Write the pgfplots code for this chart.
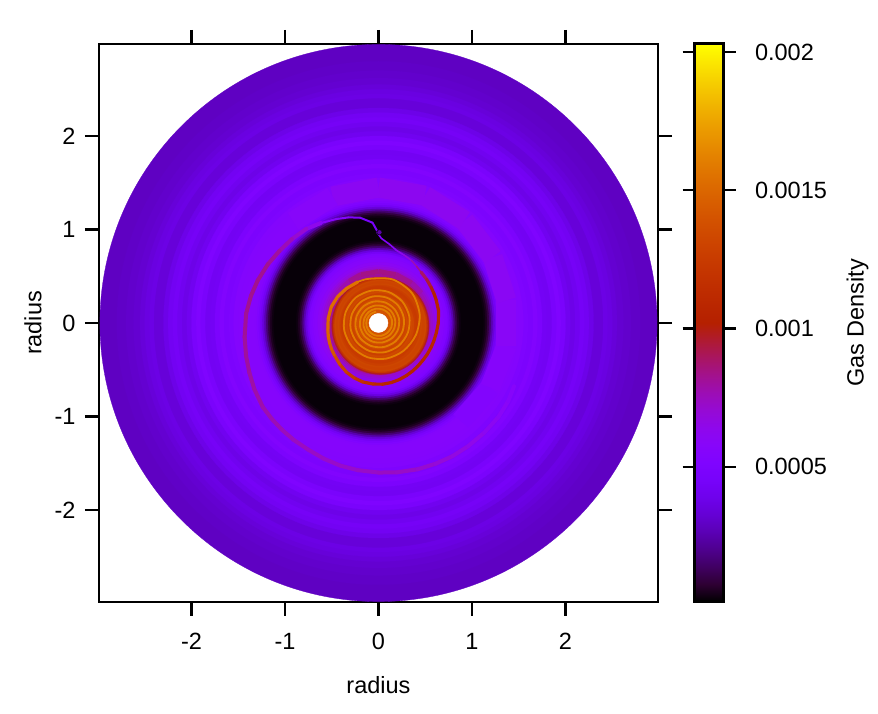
\documentclass[border=0pt]{standalone}
\usepackage{fontspec}
\setmainfont{Liberation Sans}
\usepackage{pgfplots}
\usepackage{pgfplotstable}
\pgfplotsset{compat=1.18}
\newcommand\fs{\fontsize{23.5}{28}\selectfont}
\definecolor{ringc}{rgb}{.885,.49,0}

% gnuplot pm3d palette 7,5,15
\pgfplotsset{colormap={gp}{
  rgb=(0,0,0) rgb=(.1768,0,.1951) rgb=(.25,.0002,.3827) rgb=(.3062,.0008,.5556)
  rgb=(.3536,.002,.7071) rgb=(.3953,.0038,.8315) rgb=(.4330,.0066,.9239) rgb=(.4677,.0105,.9808)
  rgb=(.5,.0156,1) rgb=(.5303,.0222,.9808) rgb=(.5590,.0305,.9239) rgb=(.5863,.0406,.8315)
  rgb=(.6124,.0527,.7071) rgb=(.6374,.0670,.5556) rgb=(.6614,.0837,.3827) rgb=(.6847,.1030,.1951)
  rgb=(.7071,.125,0) rgb=(.7289,.1499,0) rgb=(.75,.1780,0) rgb=(.7706,.2093,0)
  rgb=(.7906,.2441,0) rgb=(.8101,.2826,0) rgb=(.8292,.3250,0) rgb=(.8478,.3713,0)
  rgb=(.8660,.4219,0) rgb=(.8839,.4768,0) rgb=(.9014,.5364,0) rgb=(.9186,.6007,0)
  rgb=(.9354,.6699,0) rgb=(.9520,.7443,0) rgb=(.9682,.8240,0) rgb=(.9843,.9091,0)
  rgb=(1,1,0)}}

% radial density profile, outermost first
\pgfplotstableread{
r d
2.98 0.00029
2.90 0.00029
2.80 0.00030
2.70 0.00031
2.62 0.00032
2.55 0.00034
2.50 0.00036
2.45 0.00037
2.40 0.00034
2.35 0.00034
2.30 0.00038
2.25 0.00042
2.20 0.00044
2.15 0.00041
2.10 0.00038
2.05 0.00041
2.00 0.00047
1.95 0.00051
1.90 0.00047
1.85 0.00042
1.80 0.00043
1.75 0.00049
1.70 0.00053
1.65 0.00049
1.60 0.00050
1.55 0.00054
1.50 0.00055
1.45 0.00056
1.40 0.00056
1.35 0.00056
1.32 0.00055
1.30 0.00052
1.28 0.00048
1.26 0.00042
1.24 0.00034
1.22 0.00025
1.20 0.00016
1.18 0.00009
1.16 0.00005
1.14 0.00003
1.12 0.00002
0.90 0.00002
0.88 0.00003
0.86 0.00005
0.84 0.00009
0.82 0.00016
0.80 0.00026
0.78 0.00036
0.76 0.00044
0.74 0.00050
0.72 0.00053
0.70 0.00055
0.68 0.00057
0.65 0.00060
0.62 0.00064
0.60 0.00068
0.58 0.00072
0.56 0.00076
}\profile

% the orange core sits a little off centre
\pgfplotstableread{
cx cy r d
0.01 -0.02 0.535 0.00082
0.02 -0.03 0.52 0.00098
0.02 -0.03 0.505 0.00122
0.02 -0.03 0.49 0.00132
0.02 -0.03 0.47 0.00130
0.015 -0.025 0.45 0.00132
0.015 -0.025 0.43 0.00128
0.01 -0.02 0.41 0.00124
0.01 -0.02 0.39 0.00126
0.01 -0.02 0.37 0.00132
0.01 -0.015 0.35 0.00134
0.01 -0.015 0.33 0.00128
0.005 -0.01 0.31 0.00134
0.005 -0.01 0.29 0.00130
0.005 -0.01 0.27 0.00136
0.005 -0.01 0.25 0.00132
0 0 0.23 0.00138
0 0 0.21 0.00134
0 0 0.19 0.00138
0 0 0.17 0.00136
0 0 0.15 0.00140
}\core

% broad crescent outside the gap
\pgfplotstableread{
t r d
-50 1.37 0.00052
-30 1.38 0.00055
-10 1.39 0.00058
10 1.39 0.00060
30 1.41 0.00061
50 1.43 0.00062
70 1.45 0.00062
90 1.45 0.00062
110 1.44 0.00060
130 1.42 0.00056
}\crescent

% faint red band above the core
\pgfplotstableread{
t r d
140 0.535 0.00076
125 0.545 0.00080
110 0.55 0.00084
90 0.55 0.00084
70 0.55 0.00084
50 0.555 0.00080
35 0.56 0.00076
}\band

% wake next to the planet
\pgfplotstableread{
t r d
91 0.99 0.00045
93.4 1.075 0.00045
100 1.145 0.00048
106 1.175 0.00052
112 1.20 0.00056
120 1.235 0.00060
}\wakeout
\pgfplotstableread{
t r d
91 0.97 0.00045
88 0.905 0.00052
82 0.85 0.00056
76 0.80 0.00060
69 0.775 0.00066
62 0.756 0.00072
56 0.73 0.00080
50 0.71 0.00086
}\wakein

% outer arm
\pgfplotstableread{
t r d
120 1.235 0.00060
127.5 1.27 0.00068
136 1.29 0.00074
144 1.31 0.00079
152 1.34 0.00082
160.5 1.37 0.00083
168 1.395 0.00083
176 1.42 0.00082
186 1.44 0.00081
194 1.46 0.00080
201 1.48 0.00080
208 1.505 0.00079
216 1.53 0.00078
222 1.535 0.00077
228 1.54 0.00076
234 1.545 0.00075
241 1.55 0.00074
248 1.565 0.00073
255 1.58 0.00072
262 1.59 0.00072
270 1.60 0.00074
277 1.61 0.00074
285 1.62 0.00072
292 1.625 0.00070
299 1.63 0.00068
306 1.63 0.00066
314 1.63 0.00063
322 1.63 0.00060
329 1.62 0.00058
335 1.60 0.00056
}\outerarm

% inner arm
\pgfplotstableread{
t r d
50 0.71 0.00086
42 0.695 0.00092
34 0.68 0.00098
28 0.672 0.00102
22 0.665 0.00104
12 0.656 0.00106
0 0.64 0.00108
-10 0.627 0.00108
-18 0.622 0.00108
-25 0.62 0.00108
-33 0.62 0.00107
-40 0.62 0.00105
-48 0.625 0.00104
-55 0.63 0.00104
-62 0.637 0.00105
-70 0.645 0.00106
-78 0.652 0.00107
-86 0.656 0.00108
-95 0.656 0.00111
-105 0.653 0.00115
-114 0.642 0.00120
-123 0.628 0.00125
-133 0.606 0.00132
-144 0.584 0.00140
-151 0.575 0.00144
-158 0.565 0.00148
-165 0.556 0.00149
-172 0.547 0.00150
-185 0.54 0.00152
-199 0.534 0.00152
-213 0.52 0.00155
-227 0.504 0.00155
-243 0.492 0.00156
}\innerarm

% tight spiral round the hole
\pgfplotstableread{
t r
-243 0.492
-258 0.484
-288 0.49
-318 0.48
-348 0.45
-378 0.42
-408 0.40
-438 0.39
-468 0.385
-498 0.38
-528 0.375
-558 0.37
-588 0.365
-618 0.355
-648 0.349
-678 0.343
-708 0.337
-738 0.331
-768 0.326
-798 0.32
-828 0.315
-858 0.31
-888 0.305
-918 0.30
-948 0.295
-978 0.29
-1008 0.285
-1038 0.281
-1068 0.276
-1098 0.272
-1128 0.267
-1158 0.263
-1188 0.258
-1218 0.254
-1248 0.249
-1278 0.245
-1308 0.24
-1338 0.235
-1368 0.231
-1398 0.227
-1428 0.224
-1458 0.22
-1488 0.216
-1518 0.212
-1548 0.209
-1578 0.205
-1608 0.201
-1638 0.198
-1668 0.194
-1698 0.19
-1728 0.187
-1758 0.184
-1788 0.181
-1818 0.178
-1848 0.175
-1878 0.172
-1908 0.169
-1938 0.166
-1968 0.163
-1998 0.16
-2028 0.158
-2058 0.155
-2088 0.152
-2118 0.15
-2148 0.147
-2178 0.145
-2208 0.142
-2238 0.14
-2268 0.137
-2298 0.135
-2328 0.132
-2358 0.13
-2388 0.127
-2418 0.125
}\spiral

\pgfplotsset{
  polarmesh/.style={mesh, point meta=explicit, line cap=round, line join=round},
  disks/.style={scatter, only marks, mark=*, point meta=explicit,
    scatter/use mapped color={draw=mapped color, fill=mapped color},
    mark options={line width=0.3pt},
    visualization depends on={\thisrow{r} \as \rr},
    scatter/@pre marker code/.append style={/tikz/mark size=\rr*93.48}},
}
\def\px{\thisrow{r}*cos(\thisrow{t})}
\def\py{\thisrow{r}*sin(\thisrow{t})}

\begin{document}
\begin{tikzpicture}
\useasboundingbox (-99pt,-112pt) rectangle (779pt,602pt);
\begin{axis}[
  at={(0pt,0pt)}, anchor=south west,
  scale only axis, width=559pt, height=558pt,
  clip mode=individual,
  xmin=-2.99, xmax=2.99, ymin=-2.985, ymax=2.985,
  xtick={-2,-1,0,1,2}, ytick={-2,-1,0,1,2},
  xticklabels={-2,-1,0,1,2}, yticklabels={-2,-1,0,1,2},
  tick align=outside, tick pos=both,
  xticklabel pos=bottom, yticklabel pos=left,
  major tick length=14pt,
  axis line style={line width=2.4pt},
  tick style={black,line width=2.2pt},
  tick label style={font=\fs},
  xticklabel style={yshift=-14pt},
  yticklabel style={xshift=-6pt},
  every axis x label/.style={at={(rel axis cs:0.5,0)},anchor=center,yshift=-83pt,font=\fs},
  every axis y label/.style={at={(rel axis cs:0,0.5)},anchor=center,xshift=-66pt,rotate=90,font=\fs},
  xlabel={radius}, ylabel={radius},
  colormap name=gp,
  point meta min=0.00001, point meta max=0.00203,
  colorbar,
  colorbar/width=29pt,
  colorbar style={
    at={(parent axis.south east)}, anchor=south west, xshift=28pt,
    scale only axis, width=29pt, height=558pt,
    ytick={0.0005,0.001,0.0015,0.002},
    yticklabels={0.0005,0.001,0.0015,0.002},
    scaled ticks=false,
    ytick pos=both, yticklabel pos=right,
    tick align=outside, major tick length=12pt,
    axis line style={line width=3pt},
    tick style={black,line width=2.2pt},
    tick label style={font=\fs},
    yticklabel style={xshift=16pt},
    every axis y label/.style={at={(rel axis cs:0,0.5)},anchor=center,xshift=163pt,rotate=90,font=\fs},
    ylabel={Gas Density},
  },
]
\addplot[disks] table[x expr=0, y expr=0, meta=d] {\profile};
\addplot[polarmesh, line width=20pt, line cap=butt]
  table[x expr=\px, y expr=\py, meta=d] {\crescent};
\addplot[polarmesh, line width=5pt, line cap=butt]
  table[x expr=\px, y expr=\py, meta=d] {\band};
\addplot[disks] table[x=cx, y=cy, meta=d] {\core};
\addplot[polarmesh, line width=4pt]
  table[x expr=\px, y expr=\py, meta=d] {\outerarm};
\addplot[polarmesh, line width=2pt]
  table[x expr=\px, y expr=\py, meta=d] {\wakeout};
\addplot[polarmesh, line width=1.6pt]
  table[x expr=\px, y expr=\py, meta=d] {\wakein};
\addplot[polarmesh, line width=3.2pt]
  table[x expr=\px, y expr=\py, meta=d] {\innerarm};
\addplot[smooth, no marks, color=ringc, line width=1.8pt]
  table[x expr=\px, y expr=\py] {\spiral};
% planet
\addplot[only marks, mark=*, mark size=2.6pt, mark options={draw=none,fill=violet!70!blue}]
  coordinates {(0.01,0.97)};
% central hole
\addplot[only marks, mark=*, mark size=9.5pt, mark options={draw=white,fill=white}]
  coordinates {(0,0)};
\end{axis}
\end{tikzpicture}
\end{document}
